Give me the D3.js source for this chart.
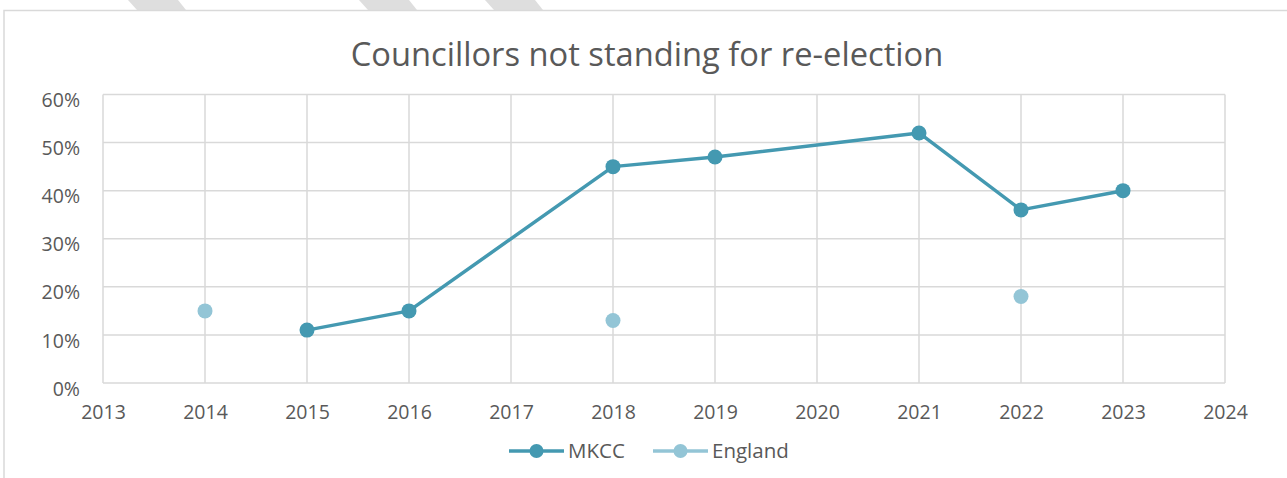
<!DOCTYPE html>
<html>
<head>
<meta charset="utf-8">
<script src="https://cdn.jsdelivr.net/npm/d3@7"></script>
<style>
  body { margin: 0; background: #fff; }
  svg { display: block; font-family: 'Open Sans', sans-serif; }
</style>
</head>
<body>
<svg></svg>
<script>
// chart data
const mkccYears = [2015, 2016, 2018, 2019, 2021, 2022, 2023];
const mkccValues = [0.11, 0.15, 0.45, 0.47, 0.52, 0.36, 0.40];
const englandYears = [2014, 2018, 2022];
const englandValues = [0.15, 0.13, 0.18];
const xTicks = [2013, 2014, 2015, 2016, 2017, 2018, 2019, 2020, 2021, 2022, 2023, 2024];
const yTicks = [0, 0.1, 0.2, 0.3, 0.4, 0.5, 0.6];
const seriesNames = ['MKCC', 'England'];

const width = 1287;
const height = 478;
const margin = { top: 94.5, right: 62, bottom: 95, left: 103 };

const mkccColor = '#4499b1';
const englandColor = '#93c5d6';
const gridColor = '#d9d9d9';
const textColor = '#595959';

const svg = d3.select('svg')
  .attr('width', width)
  .attr('height', height);

// grey stripes peeking over the top edge
const stripes = [128, 359, 485];
svg.selectAll('path.stripe')
  .data(stripes)
  .enter()
  .append('path')
  .attr('class', 'stripe')
  .attr('d', d => `M${d},0 L${d + 50},0 L${d + 58},10 L${d + 9},10 Z`)
  .attr('fill', '#dedede');

// outer frame
svg.append('path')
  .attr('d', `M4,${height} L4,10.5 L${width},10.5`)
  .attr('fill', 'none')
  .attr('stroke', gridColor)
  .attr('stroke-width', 1.5);

const x = d3.scaleLinear()
  .domain([2013, 2024])
  .range([margin.left, width - margin.right]);

const y = d3.scaleLinear()
  .domain([0, 0.6])
  .range([height - margin.bottom, margin.top]);

svg.append('text')
  .attr('x', 647)
  .attr('y', 66)
  .attr('text-anchor', 'middle')
  .attr('fill', textColor)
  .style('font-size', '32.7px')
  .text('Councillors not standing for re-election');

// gridlines
const g = svg.append('g');

g.selectAll('line.h')
  .data(yTicks)
  .enter()
  .append('line')
  .attr('x1', x(2013))
  .attr('x2', x(2024))
  .attr('y1', d => y(d))
  .attr('y2', d => y(d))
  .attr('stroke', gridColor)
  .attr('stroke-width', 1.5);

g.selectAll('line.v')
  .data(xTicks)
  .enter()
  .append('line')
  .attr('x1', d => x(d))
  .attr('x2', d => x(d))
  .attr('y1', y(0))
  .attr('y2', y(0.6))
  .attr('stroke', gridColor)
  .attr('stroke-width', 1.5);

// axes (labels only)
const yAxis = svg.append('g')
  .attr('transform', `translate(${margin.left},0)`)
  .call(d3.axisLeft(y).tickValues(yTicks).tickFormat(d3.format('.0%')).tickSize(0).tickPadding(23));

const xAxis = svg.append('g')
  .attr('transform', `translate(0,${y(0)})`)
  .call(d3.axisBottom(x).tickValues(xTicks).tickFormat(d3.format('d')).tickSize(0).tickPadding(22));

[yAxis, xAxis].forEach(a => {
  a.select('.domain').remove();
  a.selectAll('text')
    .attr('fill', textColor)
    .style('font-size', '19.5px')
    .style('font-family', "'Open Sans', sans-serif");
});
yAxis.selectAll('text').attr('dy', '0.62em');

// MKCC line
const mkcc = mkccYears.map((yr, i) => ({ yr, v: mkccValues[i] }));
const england = englandYears.map((yr, i) => ({ yr, v: englandValues[i] }));

const line = d3.line()
  .x(d => x(d.yr))
  .y(d => y(d.v));

svg.append('path')
  .datum(mkcc)
  .attr('d', line)
  .attr('fill', 'none')
  .attr('stroke', mkccColor)
  .attr('stroke-width', 3.5)
  .attr('stroke-linejoin', 'round');

svg.selectAll('circle.mkcc')
  .data(mkcc)
  .enter()
  .append('circle')
  .attr('class', 'mkcc')
  .attr('cx', d => x(d.yr))
  .attr('cy', d => y(d.v))
  .attr('r', 7.5)
  .attr('fill', mkccColor);

svg.selectAll('circle.eng')
  .data(england)
  .enter()
  .append('circle')
  .attr('class', 'eng')
  .attr('cx', d => x(d.yr))
  .attr('cy', d => y(d.v))
  .attr('r', 7.5)
  .attr('fill', englandColor);

// legend
const legendX = [509, 653];
const legendColors = [mkccColor, englandColor];
const legend = svg.selectAll('g.legend')
  .data(seriesNames)
  .enter()
  .append('g')
  .attr('class', 'legend')
  .attr('transform', (d, i) => `translate(${legendX[i]},451)`);

legend.append('line')
  .attr('x1', 0)
  .attr('x2', 55)
  .attr('stroke', (d, i) => legendColors[i])
  .attr('stroke-width', 3.5);

legend.append('circle')
  .attr('cx', 27.5)
  .attr('r', 7)
  .attr('fill', (d, i) => legendColors[i]);

legend.append('text')
  .attr('x', 59)
  .attr('dy', '0.36em')
  .attr('fill', textColor)
  .style('font-size', '20.5px')
  .text(d => d);
</script>
</body>
</html>
